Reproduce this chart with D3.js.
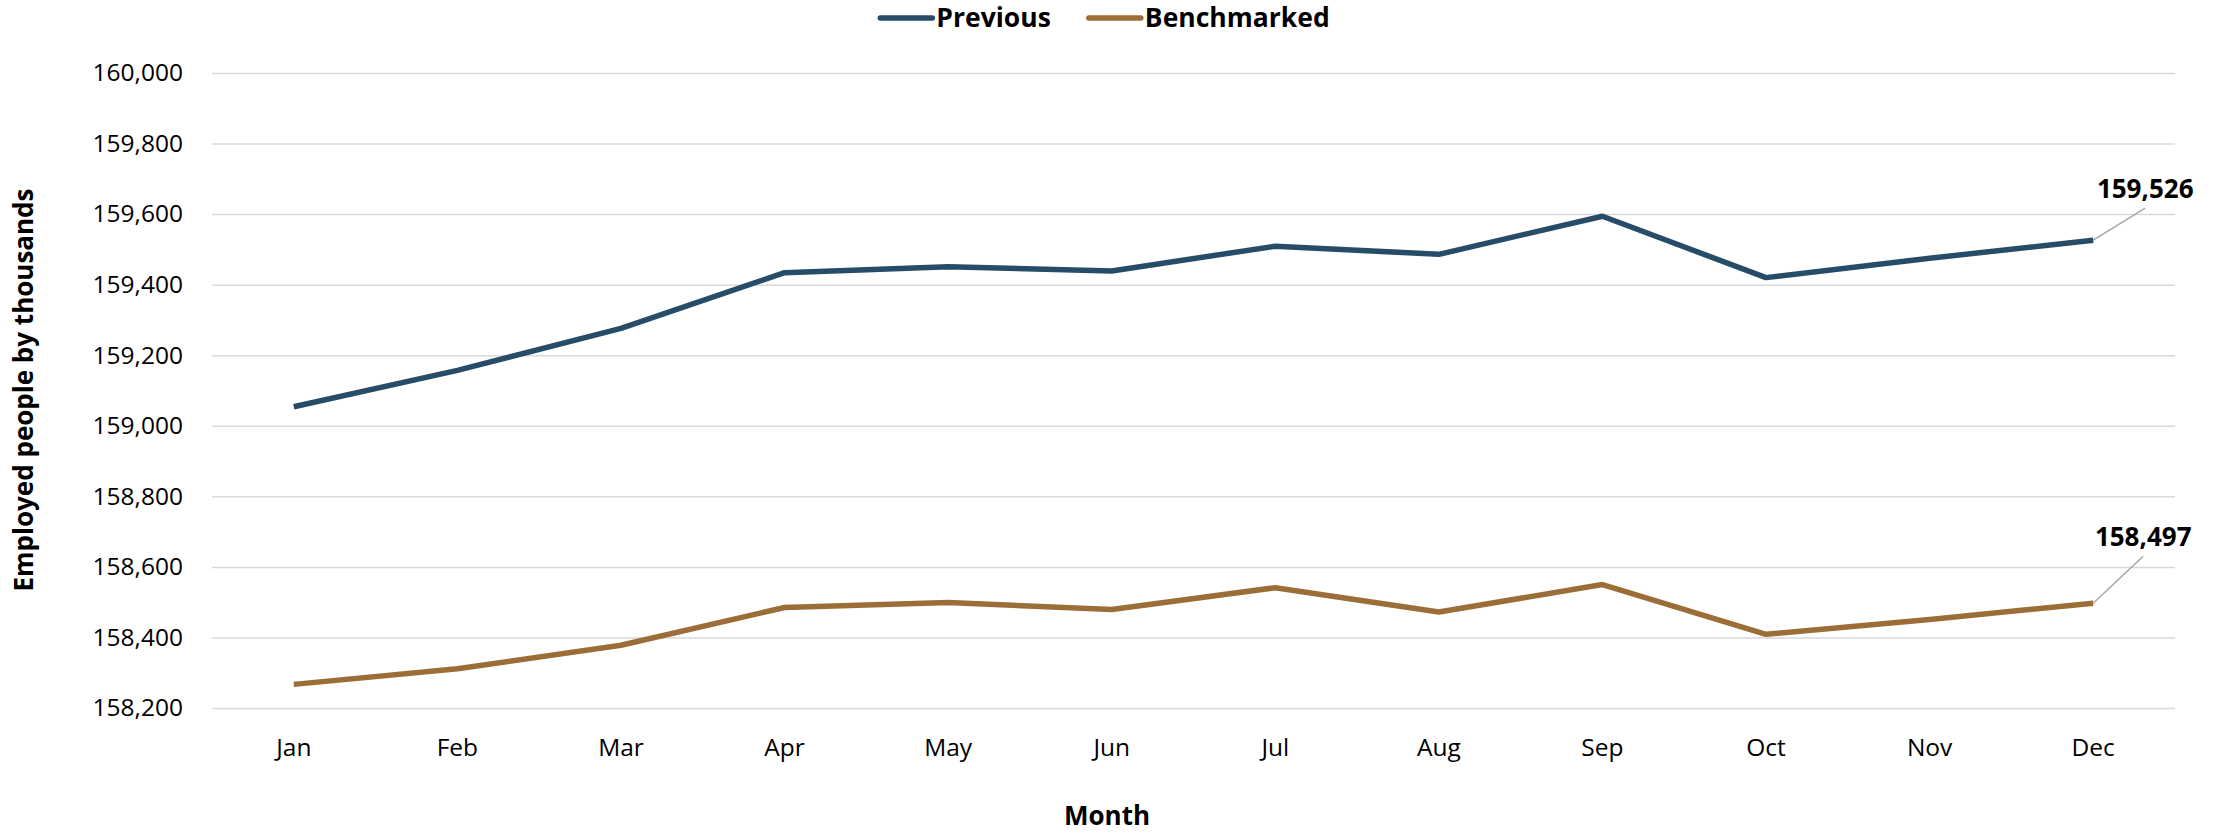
<!DOCTYPE html>
<html>
<head>
<meta charset="utf-8">
<script src="https://cdn.jsdelivr.net/npm/d3@7"></script>
<style>
  body { margin: 0; background: #fff; }
  svg { display: block; font-family: "Open Sans", sans-serif; }
</style>
</head>
<body>
<script>
// size of window
var width = 2221;
var height = 833;

// data
var months = ["Jan","Feb","Mar","Apr","May","Jun","Jul","Aug","Sep","Oct","Nov","Dec"];
var previous = [159054, 159157, 159276, 159434, 159451, 159439, 159509, 159486, 159594, 159420, 159475, 159526];
var benchmarked = [158267, 158311, 158378, 158485, 158499, 158479, 158541, 158472, 158550, 158409, 158451, 158497];
var seriesNames = ["Previous", "Benchmarked"];
var yTicks = [158200, 158400, 158600, 158800, 159000, 159200, 159400, 159600, 159800, 160000];

var colors = ["#274c68", "#9b6e38"];

// plot area
var plot = {left: 212, right: 2175, top: 73, bottom: 708};

var svg = d3.select("body").append("svg")
  .attr("width", width).attr("height", height);

var x = d3.scaleBand()
  .domain(months)
  .range([plot.left, plot.right]);

var y = d3.scaleLinear()
  .domain([158200, 160000])
  .range([plot.bottom, plot.top]);

// gridlines
var grid = svg.append("g")
  .attr("transform", "translate(" + plot.left + ",0)")
  .call(d3.axisLeft(y).tickValues(yTicks).tickSize(-(plot.right - plot.left)).tickFormat(""));
grid.select(".domain").remove();
grid.selectAll("line").attr("stroke", "#d9d9d9").attr("stroke-width", 1.5);

// y axis labels
var yAxis = svg.append("g")
  .attr("transform", "translate(" + plot.left + ",0)")
  .call(d3.axisLeft(y).tickValues(yTicks).tickSize(0).tickPadding(29).tickFormat(d3.format(",")));
yAxis.select(".domain").remove();
yAxis.selectAll("text")
  .attr("font-family", "Open Sans").attr("font-size", "24.5px").attr("fill", "#000");

// x axis labels
var xAxis = svg.append("g")
  .attr("transform", "translate(0," + plot.bottom + ")")
  .call(d3.axisBottom(x).tickSize(0).tickPadding(31));
xAxis.select(".domain").remove();
xAxis.selectAll("text")
  .attr("font-family", "Open Sans").attr("font-size", "24.5px").attr("fill", "#000");

// axis titles
svg.append("text")
  .attr("transform", "translate(33,390) rotate(-90)")
  .attr("text-anchor", "middle")
  .attr("font-size", "26px").attr("font-weight", "bold")
  .text("Employed people by thousands");

svg.append("text")
  .attr("x", 1107).attr("y", 825)
  .attr("text-anchor", "middle")
  .attr("font-size", "26px").attr("font-weight", "bold")
  .text("Month");

// lines
var line = d3.line()
  .x(function(d, i){ return x(months[i]) + x.bandwidth() / 2; })
  .y(function(d){ return y(d); });

[previous, benchmarked].forEach(function(s, k){
  svg.append("path")
    .attr("d", line(s))
    .attr("fill", "none")
    .attr("stroke", colors[k])
    .attr("stroke-width", 5.5)
    .attr("stroke-linejoin", "round");
});

// end labels with leader lines
var leaders = [{dx: 52, dy: -32}, {dx: 50, dy: -47}];
[previous, benchmarked].forEach(function(s, k){
  var last = s.length - 1;
  var px = x(months[last]) + x.bandwidth() / 2;
  var py = y(s[last]);
  var ex = px + leaders[k].dx, ey = py + leaders[k].dy;
  svg.append("line")
    .attr("x1", px).attr("y1", py).attr("x2", ex).attr("y2", ey)
    .attr("stroke", "#a6a6a6").attr("stroke-width", 1.5);
  svg.append("text")
    .attr("x", ex).attr("y", ey - 10)
    .attr("text-anchor", "middle")
    .attr("font-size", "26px").attr("font-weight", "bold")
    .text(d3.format(",")(s[last]));
});

// legend
var legend = svg.append("g");
var lx = 0;
seriesNames.forEach(function(name, k){
  var g = legend.append("g").attr("transform", "translate(" + lx + ",0)");
  g.append("line")
    .attr("x1", 2).attr("x2", 54).attr("y1", 18).attr("y2", 18)
    .attr("stroke", colors[k]).attr("stroke-width", 5.5).attr("stroke-linecap", "round");
  var t = g.append("text")
    .attr("x", 58).attr("y", 27)
    .attr("font-size", "26.5px").attr("font-weight", "bold")
    .text(name);
  lx += 58 + t.node().getComputedTextLength() + 36;
});
var legendWidth = lx - 36;
legend.attr("transform", "translate(" + (1104 - legendWidth / 2) + ",0)");
</script>
</body>
</html>
